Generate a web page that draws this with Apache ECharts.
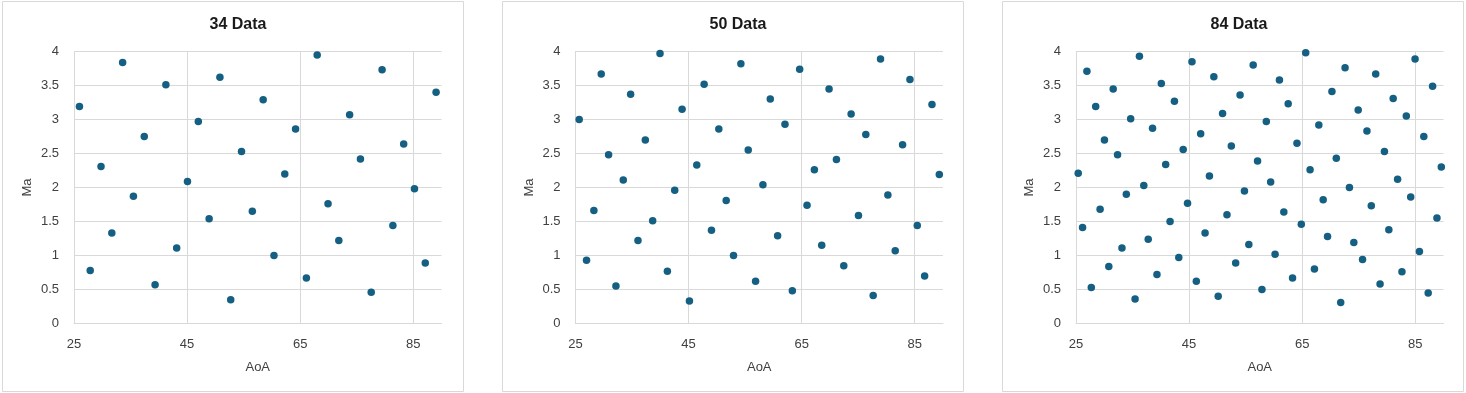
<!DOCTYPE html>
<html>
<head>
<meta charset="utf-8">
<script src="https://cdn.jsdelivr.net/npm/echarts@6/dist/echarts.min.js"></script>
<style>
  html, body { margin: 0; padding: 0; background: #fff; }
  #chart { width: 1466px; height: 393px; }
</style>
</head>
<body>
<div id="chart"></div>
<script>
// panel titles
const titles = ['34 Data', '50 Data', '84 Data'];

// 34 points
const aoa34 = [25.96, 27.87, 29.78, 31.69, 33.60, 35.51, 37.43, 39.34, 41.25, 43.16,
  45.07, 46.99, 48.90, 50.81, 52.72, 54.63, 56.54, 58.46, 60.37, 62.28,
  64.19, 66.10, 68.01, 69.93, 71.84, 73.75, 75.66, 77.57, 79.49, 81.40,
  83.31, 85.22, 87.13, 89.04];
const ma34 = [3.19, 0.78, 2.31, 1.33, 3.84, 1.87, 2.75, 0.57, 3.51, 1.11,
  2.09, 2.97, 1.54, 3.62, 0.35, 2.53, 1.65, 3.29, 1.00, 2.20,
  2.86, 0.67, 3.95, 1.76, 1.22, 3.07, 2.42, 0.46, 3.73, 1.44,
  2.64, 1.98, 0.89, 3.40];

// 50 points
const aoa50 = [25.65, 26.95, 28.25, 29.55, 30.85, 32.15, 33.45, 34.75, 36.05, 37.35,
  38.65, 39.95, 41.25, 42.55, 43.85, 45.15, 46.45, 47.75, 49.05, 50.35,
  51.65, 52.95, 54.25, 55.55, 56.85, 58.15, 59.45, 60.75, 62.05, 63.35,
  64.65, 65.95, 67.25, 68.55, 69.85, 71.15, 72.45, 73.75, 75.05, 76.35,
  77.65, 78.95, 80.25, 81.55, 82.85, 84.15, 85.45, 86.75, 88.05, 89.35];
const ma50 = [3.00, 0.93, 1.66, 3.67, 2.48, 0.55, 2.11, 3.37, 1.22, 2.70,
  1.51, 3.97, 0.77, 1.96, 3.15, 0.33, 2.33, 3.52, 1.37, 2.86,
  1.81, 1.00, 3.82, 2.55, 0.62, 2.04, 3.30, 1.29, 2.93, 0.48,
  3.74, 1.74, 2.26, 1.15, 3.45, 2.41, 0.85, 3.08, 1.59, 2.78,
  0.41, 3.89, 1.89, 1.07, 2.63, 3.59, 1.44, 0.70, 3.22, 2.19];

// 84 points
const aoa84 = [25.39, 26.16, 26.93, 27.71, 28.48, 29.26, 30.03, 30.80, 31.58, 32.35,
  33.13, 33.90, 34.67, 35.45, 36.22, 36.99, 37.77, 38.54, 39.32, 40.09,
  40.86, 41.64, 42.41, 43.18, 43.96, 44.73, 45.51, 46.28, 47.05, 47.83,
  48.60, 49.38, 50.15, 50.92, 51.70, 52.47, 53.24, 54.02, 54.79, 55.57,
  56.34, 57.11, 57.89, 58.66, 59.43, 60.21, 60.98, 61.76, 62.53, 63.30,
  64.08, 64.85, 65.63, 66.40, 67.17, 67.95, 68.72, 69.49, 70.27, 71.04,
  71.82, 72.59, 73.36, 74.14, 74.91, 75.68, 76.46, 77.23, 78.01, 78.78,
  79.55, 80.33, 81.10, 81.88, 82.65, 83.42, 84.20, 84.97, 85.74, 86.52,
  87.29, 88.07, 88.84, 89.61];
const ma84 = [2.21, 1.41, 3.71, 0.53, 3.19, 1.68, 2.70, 0.84, 3.45, 2.48,
  1.11, 1.90, 3.01, 0.36, 3.93, 2.03, 1.24, 2.87, 0.72, 3.53,
  2.34, 1.50, 3.27, 0.97, 2.56, 1.77, 3.85, 0.62, 2.79, 1.33,
  2.17, 3.63, 0.40, 3.09, 1.60, 2.61, 0.89, 3.36, 1.95, 1.16,
  3.80, 2.39, 0.50, 2.97, 2.08, 1.02, 3.58, 1.64, 3.23, 0.67,
  2.65, 1.46, 3.98, 2.26, 0.80, 2.92, 1.82, 1.28, 3.41, 2.43,
  0.31, 3.76, 2.00, 1.19, 3.14, 0.94, 2.83, 1.73, 3.67, 0.58,
  2.53, 1.38, 3.31, 2.12, 0.76, 3.05, 1.86, 3.89, 1.06, 2.75,
  0.45, 3.49, 1.55, 2.30];

const sets = [[aoa34, ma34], [aoa50, ma50], [aoa84, ma84]];

// layout of each panel (px)
const panels = [
  { box: 2.5, plot: 74, center: 233 },
  { box: 502.5, plot: 575.5, center: 733 },
  { box: 1002.5, plot: 1076, center: 1234 }
];
const plotW = 367.5;
const gridColor = '#d9d9d9';
const labelColor = '#404040';
const font = 'Arial, "Liberation Sans", sans-serif';

const chart = echarts.init(document.getElementById('chart'), null, { renderer: 'canvas' });

chart.setOption({
  animation: false,
  title: panels.map((p, i) => ({
    text: titles[i],
    left: p.center,
    top: 12,
    textAlign: 'center',
    textStyle: { fontFamily: font, fontSize: 16, fontWeight: 'bold', color: '#1a1a1a' }
  })),
  graphic: panels.map((p) => ({
    type: 'rect',
    shape: { x: p.box, y: 1.5, width: 461, height: 390 },
    style: { fill: 'none', stroke: gridColor, lineWidth: 1 },
    silent: true
  })),
  grid: panels.map((p) => ({
    left: p.plot, top: 51.5, width: plotW, height: 272, containLabel: false
  })),
  xAxis: panels.map((p, i) => ({
    type: 'value',
    gridIndex: i,
    min: 25,
    max: 90,
    interval: 20,
    name: 'AoA',
    nameLocation: 'middle',
    nameGap: 37,
    nameTextStyle: { fontFamily: font, fontSize: 13, color: labelColor },
    axisLine: { show: true, lineStyle: { color: gridColor } },
    axisTick: { show: false },
    axisLabel: { fontFamily: font, fontSize: 13, color: labelColor, margin: 14, showMaxLabel: false },
    splitLine: { show: true, showMaxLine: false, lineStyle: { color: gridColor } }
  })),
  yAxis: panels.map((p, i) => ({
    type: 'value',
    gridIndex: i,
    min: 0,
    max: 4,
    interval: 0.5,
    name: 'Ma',
    nameLocation: 'middle',
    nameGap: 40,
    nameRotate: 90,
    nameTextStyle: { fontFamily: font, fontSize: 13, color: labelColor },
    axisLine: { show: true, lineStyle: { color: gridColor } },
    axisTick: { show: false },
    axisLabel: { fontFamily: font, fontSize: 13, color: labelColor, margin: 15 },
    splitLine: { show: true, lineStyle: { color: gridColor } }
  })),
  series: sets.map(([xs, ys], i) => ({
    type: 'scatter',
    xAxisIndex: i,
    yAxisIndex: i,
    symbol: 'circle',
    symbolSize: 7.5,
    itemStyle: { color: '#156082', opacity: 1 },
    data: xs.map((x, k) => [x, ys[k]])
  }))
});
</script>
</body>
</html>
